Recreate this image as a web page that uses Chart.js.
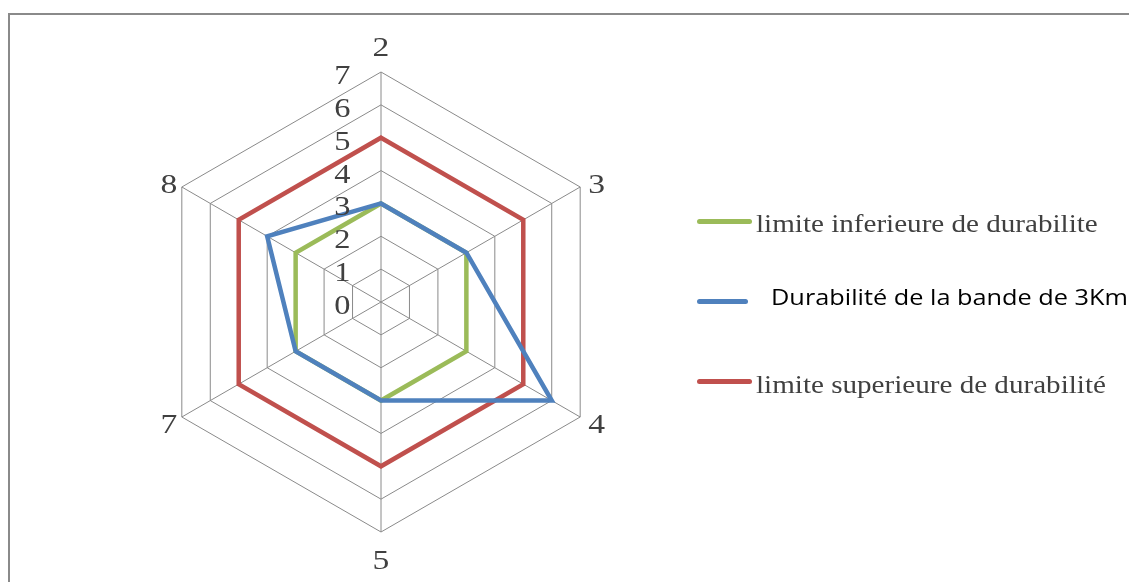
<!DOCTYPE html>
<html>
<head>
<meta charset="utf-8">
<script src="https://cdn.jsdelivr.net/npm/chart.js@4/dist/chart.umd.min.js"></script>
<style>
  html, body { margin:0; padding:0; width:1129px; height:582px; overflow:hidden; background:#fff; }
  #frame { position:absolute; left:8px; top:13px; width:2000px; height:2000px; border:2px solid #8a8a8a; box-sizing:border-box; }
  #wrap { position:absolute; left:0; top:0; width:762px; height:582px; }
  .sw { position:absolute; height:5px; border-radius:2.5px; }
  .lg { position:absolute; white-space:nowrap; transform-origin:0 50%; }
  .serif { font-family:"Liberation Serif","DejaVu Serif",serif; font-size:25px; line-height:30px; color:#404040; transform:scaleX(1.164); }
  .sans { font-family:"Open Sans",sans-serif; font-size:21px; line-height:30px; color:#000; transform:scaleX(1.205); }
</style>
</head>
<body>
<div id="frame"></div>
<div id="wrap"><canvas id="c"></canvas></div>

<div class="sw" style="left:697px; top:219px; width:55px; background:#9BBB59;"></div>
<div class="lg serif" id="l1" style="left:756px; top:209px;">limite inferieure de durabilite</div>

<div class="sw" style="left:697px; top:298.5px; width:51px; background:#4F81BD;"></div>
<div class="lg sans" id="l2" style="left:771px; top:282px;">Durabilité de la bande de 3Km</div>

<div class="sw" style="left:697px; top:379px; width:55px; background:#C0504D;"></div>
<div class="lg serif" id="l3" style="left:756px; top:369.5px;">limite superieure de durabilité</div>

<script>
// ---- data ----
const categories = ["2", "3", "4", "5", "7", "8"];
const lowerLimit = [3, 3, 3, 3, 3, 3];
const band3Km    = [3, 3, 6, 3, 3, 4];
const upperLimit = [5, 5, 5, 5, 5, 5];
const seriesNames = [
  "limite inferieure de durabilite",
  "Durabilité de la bande de 3Km",
  "limite superieure de durabilité"
];
const tickMin = 0, tickMax = 7, tickStep = 1;

const gridColor = "#8a8a8a";
const textColor = "#404040";
const textStretch = 1.2;

function stretchedText(ctx, txt, x, y) {
  ctx.save();
  ctx.translate(x, y);
  ctx.scale(textStretch, 1);
  ctx.fillText(txt, 0, 0);
  ctx.restore();
}

const labelPlugin = {
  id: "customLabels",
  afterDraw(chart) {
    const s = chart.scales.r;
    const ctx = chart.ctx;
    ctx.save();
    ctx.fillStyle = textColor;
    ctx.textBaseline = "alphabetic";
    // tick labels, left of the vertical axis
    ctx.font = '27px "Liberation Serif", serif';
    ctx.textAlign = "right";
    s.ticks.forEach(t => {
      const d = s.getDistanceFromCenterForValue(t.value);
      stretchedText(ctx, String(t.value), s.xCenter - 30.5, s.yCenter - d + 12);
    });
    // point (category) labels
    ctx.font = '28px "Liberation Serif", serif';
    chart.data.labels.forEach((lab, i) => {
      const p = s.getPointPosition(i, s.drawingArea);
      const a = s.getIndexAngle(i);
      const dx = Math.sin(a), dy = -Math.cos(a);
      let x, y;
      if (Math.abs(dx) < 0.01) {
        ctx.textAlign = "center";
        x = p.x;
        y = dy < 0 ? p.y - 16.5 : p.y + 37;
      } else {
        ctx.textAlign = dx > 0 ? "left" : "right";
        x = p.x + (dx > 0 ? 8 : -4.5);
        y = p.y + 10.5 + dy * 10;
      }
      stretchedText(ctx, lab, x, y);
    });
    ctx.restore();
  }
};

const common = { fill: false, pointRadius: 0, pointHoverRadius: 0, borderWidth: 4.5, tension: 0, borderJoinStyle: "miter" };

new Chart(document.getElementById("c"), {
  type: "radar",
  data: {
    labels: categories,
    datasets: [
      Object.assign({ label: seriesNames[0], data: lowerLimit, borderColor: "#9BBB59", order: 1 }, common),
      Object.assign({ label: seriesNames[1], data: band3Km, borderColor: "#4F81BD", order: 0 }, common),
      Object.assign({ label: seriesNames[2], data: upperLimit, borderColor: "#C0504D", order: 2 }, common)
    ]
  },
  options: {
    responsive: true,
    maintainAspectRatio: false,
    animation: false,
    layout: { padding: { top: 72, bottom: 50, left: 0, right: 0 } },
    plugins: { legend: { display: false }, tooltip: { enabled: false } },
    scales: {
      r: {
        min: tickMin,
        max: tickMax,
        ticks: { stepSize: tickStep, display: false },
        grid: { color: gridColor, lineWidth: 1 },
        angleLines: { color: gridColor, lineWidth: 1 },
        pointLabels: { display: false }
      }
    }
  },
  plugins: [labelPlugin]
});
</script>
</body>
</html>
